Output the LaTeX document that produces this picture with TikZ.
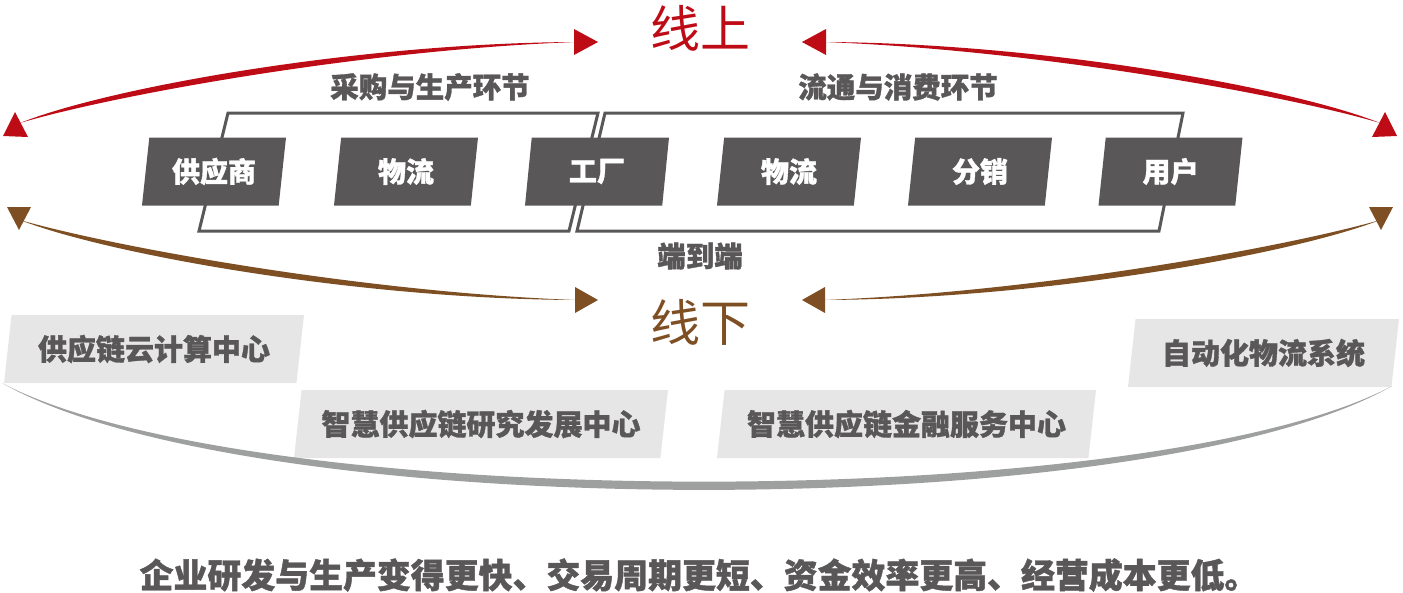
\documentclass[tikz,border=0pt]{standalone}
\usepackage{fontspec}
\newfontfamily\cjk{Noto Sans CJK SC}[BoldFeatures={FakeBold=1.2}]
\usetikzlibrary{shapes.geometric}
\definecolor{stagegray}{HTML}{595757}
\definecolor{padgray}{HTML}{E6E6E6}
\definecolor{arcgray}{HTML}{9E9F9F}
\definecolor{onred}{HTML}{BE0C17}
\definecolor{offbrown}{HTML}{7E4F23}
\tikzset{
  stage/.style={trapezium, trapezium left angle=75, trapezium right angle=105,
    trapezium stretches body=true, fill=stagegray, text=white, inner sep=0pt,
    minimum width=144pt, minimum height=68pt,
    font=\cjk\bfseries\fontsize{28pt}{28pt}\selectfont},
  pad/.style={stage, fill=padgray, text=stagegray,
    font=\cjk\bfseries\fontsize{29pt}{29pt}\selectfont},
  phase/.style={draw=stagegray, line width=3pt, line join=miter},
  caption/.style={text=stagegray, inner sep=0pt,
    font=\cjk\bfseries\fontsize{28.5pt}{28.5pt}\selectfont},
  title/.style={inner sep=0pt, font=\cjk\fontsize{50pt}{50pt}\selectfont}
}
\begin{document}
\begin{tikzpicture}[x=1pt,y=-1pt]
  \useasboundingbox (0,0) rectangle (1403,592);

  % frames behind the chain
  \draw[phase] (199,231) -- (228,113) -- (598,113) -- (569,231) -- cycle; % make
  \draw[phase] (577,231) -- (605,113) -- (1183,113) -- (1159,231) -- cycle; % sell
  \node[caption] (makelbl) at (430,87) {采购与生产环节};
  \node[caption] (selllbl) at (898,87) {流通与消费环节};
  \node[caption] (e2e) at (700,256) {端到端};

  % the chain
  \node[stage] (supplier) at (214,171.5) {供应商};
  \node[stage] (logA) at (406,171.5) {物流};
  \node[stage] (factory) at (597,171.5) {工厂};
  \node[stage] (logB) at (789,171.5) {物流};
  \node[stage] (dist) at (980,171.5) {分销};
  \node[stage] (user) at (1170.5,171.5) {用户};

  % online / offline
  \node[title, text=onred] (online) at (700,28) {线上};
  \node[title, text=offbrown] (offline) at (700,322) {线下};

  \coordinate (onL) at (20,123);   \coordinate (onLi) at (576,42);
  \coordinate (onR) at (1380,123); \coordinate (onRi) at (824,42);
  \coordinate (offL) at (20,220);  \coordinate (offLi) at (576,300);
  \coordinate (offR) at (1380,220);\coordinate (offRi) at (824,300);

  \fill[onred] (onL) .. controls (110,87) and (360,43) .. (onLi)
    .. controls (360,50) and (110,96) .. (onL) -- cycle; %% left
  \fill[onred] (onR) .. controls (1290,87) and (1040,43) .. (onRi)
    .. controls (1040,50) and (1290,96) .. (onR) -- cycle; %% right
  \fill[onred] (15,112) -- (3,136) -- (28,137) -- cycle;
  \fill[onred] (598,42) -- (574,29) -- (574,55) -- cycle;
  \fill[onred] (802,42) -- (826,29) -- (826,55) -- cycle;
  \fill[onred] (1385,112) -- (1397,136) -- (1372,137) -- cycle;

  \fill[offbrown] (offL) .. controls (110,255) and (360,299) .. (offLi)
    .. controls (360,292) and (110,246) .. (offL) -- cycle; %% left
  \fill[offbrown] (offR) .. controls (1290,255) and (1040,299) .. (offRi)
    .. controls (1040,292) and (1290,246) .. (offR) -- cycle; %% right
  \fill[offbrown] (7,207) -- (31,207) -- (19,230) -- cycle;
  \fill[offbrown] (598,300) -- (575,287) -- (575,313) -- cycle;
  \fill[offbrown] (802,300) -- (825,287) -- (825,313) -- cycle;
  \fill[offbrown] (1393,207) -- (1369,207) -- (1381,230) -- cycle;

  % centres
  \node[pad, minimum width=300pt] (cloud) at (154,349) {供应链云计算中心};
  \node[pad, minimum width=374pt] (rnd) at (481,424) {智慧供应链研究发展中心};
  \node[pad, minimum width=379pt] (fin) at (906.5,424) {智慧供应链金融服务中心};
  \node[pad, minimum width=271pt] (auto) at (1263.5,353) {自动化物流系统};

  \coordinate (baseL) at (2,383);
  \coordinate (baseR) at (1392,386);
  \fill[arcgray]
    (baseL) .. controls (250,525) and (1150,525) .. (baseR)
    .. controls (1150,514) and (250,514) .. (baseL) -- cycle;

  \node[caption, font=\cjk\bfseries\fontsize{33.9pt}{33.9pt}\selectfont] (motto) at (699,575)
    {企业研发与生产变得更快、交易周期更短、资金效率更高、经营成本更低。};
\end{tikzpicture}
\end{document}
